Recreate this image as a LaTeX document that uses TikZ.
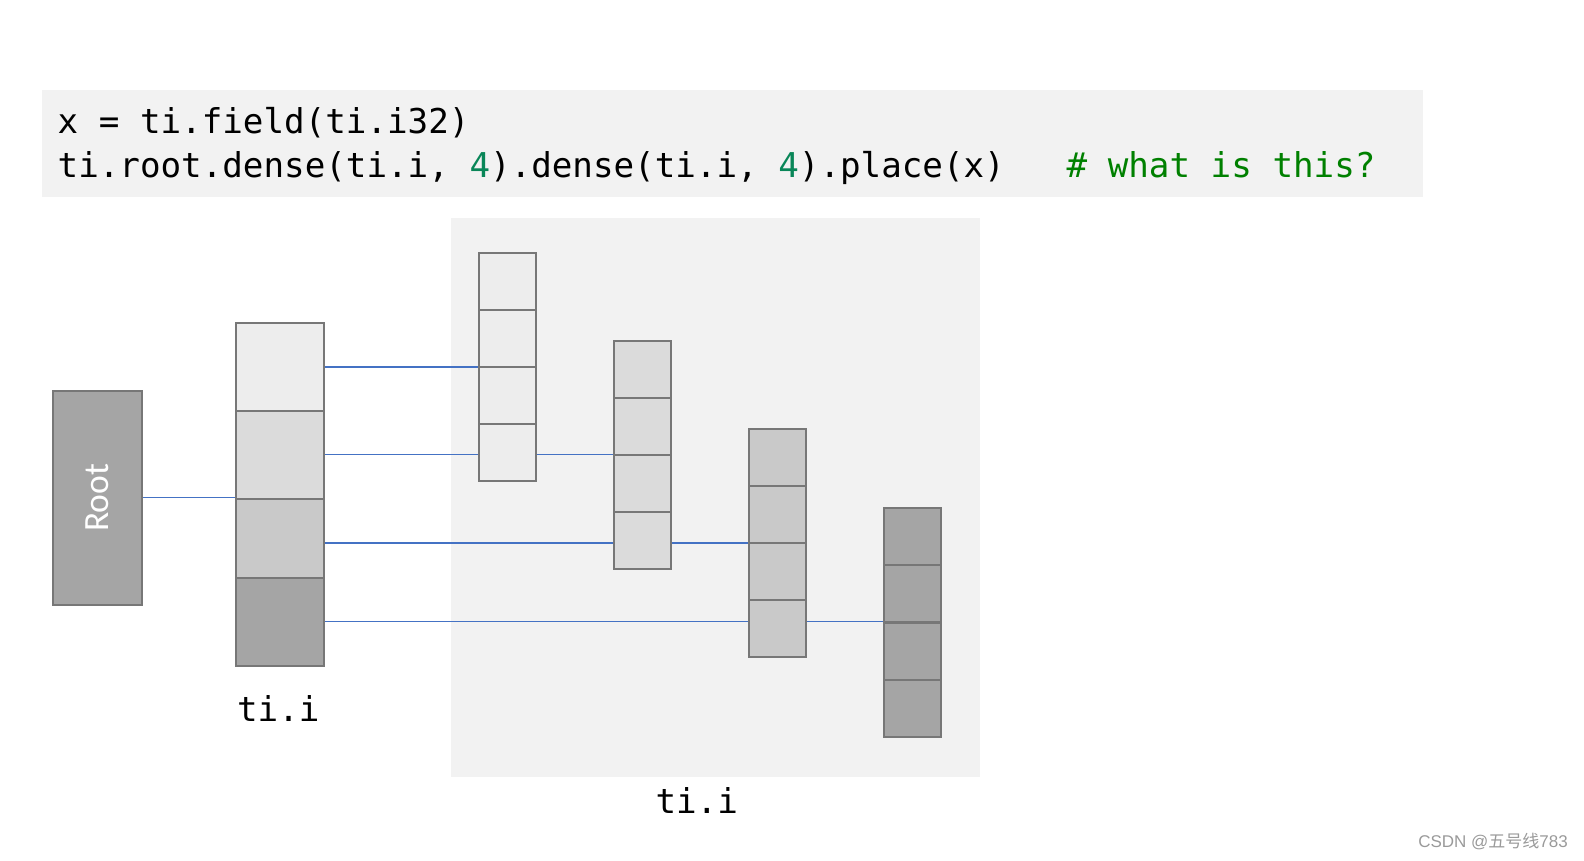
\documentclass[tikz,border=0pt]{standalone}
\usepackage{fontspec}
\newfontfamily\codefont{DejaVu Sans Mono}
\newfontfamily\rootfont{Carlito}
\newfontfamily\wmfont{Liberation Sans}
\newfontfamily\cjkfont{Noto Sans CJK SC}
\definecolor{panelgray}{HTML}{F2F2F2}
\definecolor{cellA}{HTML}{EDEDED}
\definecolor{cellB}{HTML}{DBDBDB}
\definecolor{cellC}{HTML}{C9C9C9}
\definecolor{cellD}{HTML}{A5A5A5}
\definecolor{borderg}{HTML}{777777}
\definecolor{linkblue}{HTML}{4472C4}
\definecolor{numteal}{HTML}{098658}
\definecolor{cmtgreen}{HTML}{008000}
\definecolor{wmgray}{HTML}{9A9A9A}
\pgfdeclarelayer{bg}
\pgfdeclarelayer{links}
\pgfsetlayers{bg,links,main}
\tikzset{
  cell/.style={draw=borderg, line width=2.1pt, inner sep=0pt, outer sep=0pt, anchor=north west},
  wcell/.style={cell, minimum width=88pt},
  ncell/.style={cell, minimum width=57.3pt, minimum height=57.1pt},
  link/.style={draw=linkblue, line width=1.1pt},
  code/.style={inner sep=0pt, anchor=base west, font=\codefont\fontsize{34.2}{40}\selectfont},
  lbl/.style={inner sep=0pt, anchor=base, font=\codefont\fontsize{34.2}{40}\selectfont}
}
\begin{document}
\begin{tikzpicture}[x=1pt, y=-1pt]
\useasboundingbox (0,0) rectangle (1584,860);
% code box
\fill[panelgray] (41.7,90) rectangle (1422.7,196.7);
\node[code] (l1) at (57.5,133) {x = ti.field(ti.i32)};
\node[code] (l2) at (57.5,177) {ti.root.dense(ti.i, \textcolor{numteal}{4}).dense(ti.i, \textcolor{numteal}{4}).place(x)\ \ \ \textcolor{cmtgreen}{\# what is this?}};
% panel
\begin{pgfonlayer}{bg}
\fill[panelgray] (451,217.7) rectangle (980,776.7);
\end{pgfonlayer}
% root
\node[cell, fill=cellD, minimum width=88.4pt, minimum height=214.3pt] (root) at (53.3,390.7) {};
\node[rotate=90, text=white, inner sep=0pt, font=\rootfont\fontsize{35.5}{40}\selectfont] (roottxt) at (root.center) {Root};
% column 1
\node[wcell, fill=cellA, minimum height=87.4pt] (c1a) at (236,323.3) {};
\node[wcell, fill=cellB, minimum height=88pt] (c1b) at (236,410.7) {};
\node[wcell, fill=cellC, minimum height=88.6pt] (c1c) at (236,498.7) {};
\node[wcell, fill=cellD, minimum height=88.3pt] (c1d) at (236,577.7) {};
% column 2
\node[ncell, fill=cellA] (c2a) at (478.7,252.7) {};
\node[ncell, fill=cellA] (c2b) at (478.7,309.8) {};
\node[ncell, fill=cellA] (c2c) at (478.7,366.9) {};
\node[ncell, fill=cellA] (c2d) at (478.7,424.0) {};
% column 3
\node[ncell, fill=cellB] (c3a) at (613.7,341) {};
\node[ncell, fill=cellB] (c3b) at (613.7,398.1) {};
\node[ncell, fill=cellB] (c3c) at (613.7,455.2) {};
\node[ncell, fill=cellB] (c3d) at (613.7,512.3) {};
% column 4
\node[ncell, fill=cellC] (c4a) at (748.7,429) {};
\node[ncell, fill=cellC] (c4b) at (748.7,486.1) {};
\node[ncell, fill=cellC] (c4c) at (748.7,543.2) {};
\node[ncell, fill=cellC] (c4d) at (748.7,600.3) {};
% column 5
\node[ncell, fill=cellD] (c5a) at (883.7,508.3) {};
\node[ncell, fill=cellD] (c5b) at (883.7,565.4) {};
\node[ncell, fill=cellD] (c5c) at (883.7,622.5) {};
\node[ncell, fill=cellD] (c5d) at (883.7,679.6) {};
% links
\begin{pgfonlayer}{links}
\draw[link] (root.east) -- (root.east -| c1a.west);
\draw[link] (c1a.east) -- (c1a.east -| c2a.west);
\draw[link] (c1b.east) -- (c1b.east -| c3a.west);
\draw[link] (c1c.east) -- (c1c.east -| c4a.west);
\draw[link] (c1d.east) -- (c1d.east -| c5a.west);
\end{pgfonlayer}
% labels
\node[lbl] (lab1) at (278.3,721.7) {ti.i};
\node[lbl] (lab2) at (696.7,813.3) {ti.i};
% watermark
\node[inner sep=0pt, anchor=east, text=wmgray, font=\wmfont\fontsize{17}{20}\selectfont] (wm) at (1568,842) {CSDN @{\cjkfont 五号线}783};
\end{tikzpicture}
\end{document}
